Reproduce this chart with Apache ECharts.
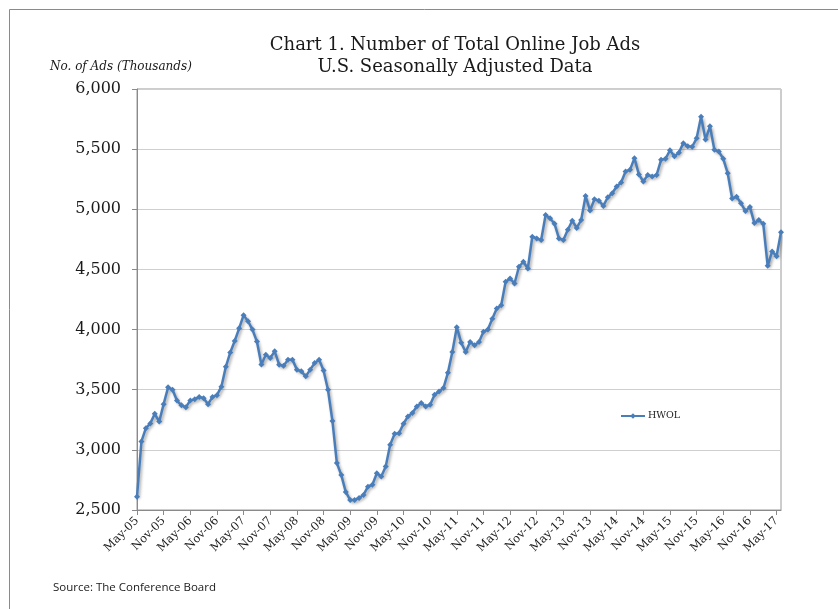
<!DOCTYPE html>
<html>
<head>
<meta charset="utf-8">
<style>
  html, body { margin: 0; padding: 0; background: #ffffff; }
  #chart { width: 838px; height: 609px; }
</style>
<script src="https://cdn.jsdelivr.net/npm/echarts@6/dist/echarts.min.js"></script>
</head>
<body>
<div id="chart"></div>
<script>
// Monthly series, May 2005 through June 2017 (thousands of ads)
const startYear = 2005;
const startMonth = 4; // May (0-based)
const monthNames = ['Jan', 'Feb', 'Mar', 'Apr', 'May', 'Jun', 'Jul', 'Aug', 'Sep', 'Oct', 'Nov', 'Dec'];

const hwol = [
  2610, 3070, 3180, 3220, 3300, 3235, 3380, 3520, 3500, 3410,
  3370, 3355, 3410, 3420, 3440, 3430, 3380, 3440, 3455, 3525,
  3690, 3810, 3905, 4010, 4120, 4069, 4000, 3900, 3710, 3790,
  3764, 3819, 3708, 3700, 3750, 3750, 3667, 3653, 3611, 3667,
  3722, 3750, 3660, 3500, 3240, 2890, 2790, 2650, 2583, 2583,
  2600, 2625, 2694, 2710, 2806, 2778, 2861, 3042, 3133, 3139,
  3217, 3278, 3306, 3361, 3389, 3361, 3375, 3458, 3486, 3514,
  3640, 3814, 4020, 3890, 3814, 3897, 3869, 3897, 3981, 4000,
  4090, 4175, 4203, 4397, 4425, 4383, 4522, 4564, 4508, 4772,
  4758, 4744, 4953, 4925, 4880, 4758, 4744, 4830, 4905, 4845,
  4910, 5110, 4990, 5083, 5072, 5028, 5100, 5133, 5189, 5222,
  5314, 5328, 5425, 5290, 5231, 5286, 5272, 5286, 5411, 5420,
  5490, 5440, 5470, 5550, 5525, 5520, 5590, 5770, 5580, 5690,
  5495, 5480, 5420, 5300, 5090, 5105, 5050, 4985, 5020, 4885,
  4910, 4880, 4530, 4650, 4610, 4810
];

// Category labels like "May-05"
const months = [];
for (let i = 0; i < hwol.length; i++) {
  const m = (startMonth + i) % 12;
  const y = startYear + Math.floor((startMonth + i) / 12);
  months.push(monthNames[m] + '-' + String(y % 100).padStart(2, '0'));
}

const yTicks = { min: 2500, max: 6000, step: 500 };

const serif = '"DejaVu Serif", "Liberation Serif", serif';

const chart = echarts.init(document.getElementById('chart'), null, { renderer: 'canvas' });

chart.setOption({
  backgroundColor: '#ffffff',
  animation: false,
  title: {
    text: 'Chart 1. Number of Total Online Job Ads\nU.S. Seasonally Adjusted Data',
    left: 450,
    top: 29,
    textAlign: 'center',
    textStyle: {
      fontFamily: serif,
      fontSize: 18,
      fontWeight: 'normal',
      color: '#1a1a1a',
      lineHeight: 22
    }
  },
  graphic: [
    {
      type: 'rect',
      shape: { x: 9.5, y: 9.5, width: 1000, height: 1000 },
      style: { fill: 'none', stroke: '#8a8a8a', lineWidth: 1 },
      silent: true
    },
    {
      type: 'text',
      left: 50,
      top: 61,
      style: {
        text: 'No. of Ads (Thousands)',
        font: 'italic 12px ' + serif,
        fill: '#1a1a1a'
      }
    },
    {
      type: 'text',
      left: 53,
      top: 582,
      style: {
        text: 'Source: The Conference Board',
        font: '11.5px "Open Sans", "Liberation Sans", sans-serif',
        fill: '#1a1a1a'
      }
    }
  ],
  legend: {
    left: 615,
    top: 406,
    itemWidth: 24,
    itemHeight: 7,
    itemGap: 4,
    textStyle: { fontFamily: serif, fontSize: 9.5, color: '#1a1a1a', padding: [0, 0, 0, -2] },
    data: ['HWOL']
  },
  grid: {
    left: 137,
    right: 57,
    top: 89,
    bottom: 99,
    show: true,
    borderColor: '#9a9a9a',
    borderWidth: 1
  },
  xAxis: {
    type: 'category',
    data: months,
    boundaryGap: false,
    axisLine: { lineStyle: { color: '#8a8a8a' } },
    axisTick: { show: true, interval: 5, length: 5, lineStyle: { color: '#8a8a8a' } },
    axisLabel: {
      interval: 5,
      rotate: 45,
      margin: 9,
      fontFamily: serif,
      fontSize: 11.5,
      color: '#1a1a1a'
    },
    splitLine: { show: false }
  },
  yAxis: {
    type: 'value',
    min: yTicks.min,
    max: yTicks.max,
    interval: yTicks.step,
    axisLine: { show: true, lineStyle: { color: '#8a8a8a' } },
    axisTick: { show: true, length: 5, lineStyle: { color: '#8a8a8a' } },
    axisLabel: {
      margin: 16,
      fontFamily: serif,
      fontSize: 16,
      color: '#1a1a1a',
      formatter: v => v.toLocaleString('en-US')
    },
    splitLine: { lineStyle: { color: '#cfcfcf', width: 1 } }
  },
  series: [
    {
      name: 'HWOL',
      type: 'line',
      data: hwol,
      symbol: 'diamond',
      symbolSize: 6,
      showAllSymbol: true,
      itemStyle: { color: '#4a7ebb' },
      lineStyle: {
        color: '#4a7ebb',
        width: 2.5,
        shadowColor: 'rgba(0,0,0,0.35)',
        shadowBlur: 3,
        shadowOffsetX: 1.5,
        shadowOffsetY: 2
      }
    }
  ]
});
</script>
</body>
</html>
